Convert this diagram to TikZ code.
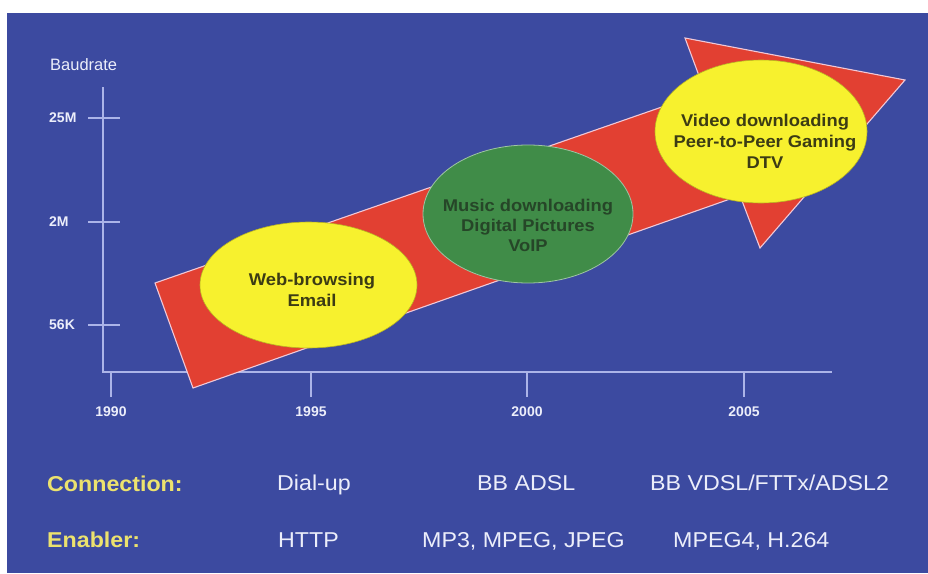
\documentclass[tikz,border=0pt]{standalone}
\usepackage{fontspec}
\setmainfont{Liberation Sans}
\newfontfamily\wfont{Liberation Sans}[FakeStretch=1.08]
\usetikzlibrary{shapes.geometric}
\definecolor{bg}{RGB}{60,74,160}
\definecolor{axisc}{RGB}{172,180,232}
\definecolor{arrowred}{RGB}{226,64,50}
\definecolor{arrowedge}{RGB}{240,200,215}
\definecolor{yel}{RGB}{247,241,46}
\definecolor{grn}{RGB}{64,140,72}
\definecolor{olive}{RGB}{60,60,20}
\definecolor{dgrn}{RGB}{38,70,40}
\definecolor{lbl}{RGB}{236,226,110}
\definecolor{wtxt}{RGB}{236,238,250}
\begin{document}
\begin{tikzpicture}[x=1pt,y=-1pt,
  axisline/.style={draw=axisc,line width=1.3pt},
  ylab/.style={anchor=west,inner sep=0pt,text=wtxt,font=\bfseries\fontsize{14}{16}\selectfont},
  xlab/.style={inner sep=0pt,text=wtxt,font=\bfseries\fontsize{14}{16}\selectfont},
  bigarrow/.style={fill=arrowred,draw=arrowedge,line width=1.1pt,line join=miter},
  ell/.style={ellipse,inner sep=0pt},
  etext/.style={align=center,inner sep=0pt,font=\wfont\bfseries\fontsize{17}{21}\selectfont},
  rowlabel/.style={anchor=base west,inner sep=0pt,text=lbl,font=\wfont\bfseries\fontsize{21.5}{24}\selectfont},
  rowtext/.style={anchor=base west,inner sep=0pt,text=wtxt,font=\wfont\fontsize{21.5}{24}\selectfont}
]
\useasboundingbox (0,0) rectangle (928,573);
\fill[white] (0,0) rectangle (928,573);
\fill[bg] (7,13) rectangle (928,573);

% axes
\coordinate (ytop) at (103,87);
\coordinate (orig) at (103,372);
\coordinate (xend) at (832,372);
\draw[axisline] (ytop) -- (orig) -- (xend);
\node[anchor=base west,inner sep=0pt,text=wtxt,font=\fontsize{16.5}{18}\selectfont] (baud) at (50,70) {Baudrate};

\foreach \yy/\t/\n in {118/25M/a,222/2M/b,325/56K/c}{
  \coordinate (yt\n l) at (88,\yy);
  \coordinate (yt\n r) at (120,\yy);
  \draw[axisline] (yt\n l) -- (yt\n r);
  \node[ylab] (yl\n) at (49,\yy) {\t};
}
\foreach \xx/\t in {111/1990,311/1995,527/2000,744/2005}{
  \coordinate (xt\t u) at (\xx,372);
  \coordinate (xt\t d) at (\xx,397);
  \draw[axisline] (xt\t u) -- (xt\t d);
  \node[xlab] (xl\t) at (\xx,412) {\t};
}

% big arrow
\coordinate (a1) at (155,283);
\coordinate (a2) at (193,388);
\coordinate (a3) at (740,195.5);
\coordinate (a4) at (760,248);
\coordinate (a5) at (905,80);
\coordinate (a6) at (685,38);
\coordinate (a7) at (705,92);
\filldraw[bigarrow] (a1) -- (a2) -- (a3) -- (a4) -- (a5) -- (a6) -- (a7) -- cycle;

% ellipses
\node[ell,fill=yel,draw=yel!75!black,line width=0.6pt,minimum width=217pt,minimum height=126pt] (web) at (308.5,285) {};
\node[ell,fill=grn,draw=grn!50!white,line width=0.8pt,minimum width=210pt,minimum height=138pt] (mus) at (528,214) {};
\node[ell,fill=yel,draw=yel!75!black,line width=0.6pt,minimum width=212pt,minimum height=143pt] (vid) at (761,131.5) {};

\node[etext,text=olive] (webt) at (312,290) {Web-browsing\\Email};
\node[etext,text=dgrn,font=\wfont\bfseries\fontsize{17}{20}\selectfont] (must) at (528,225) {Music downloading\\Digital Pictures\\VoIP};
\node[etext,text=olive] (vidt) at (765,141) {Video downloading\\Peer-to-Peer Gaming\\DTV};

% bottom rows
\node[rowlabel] (conn) at (47,491) {Connection:};
\node[rowtext] (c1) at (277,490) {Dial-up};
\node[rowtext] (c2) at (477,490) {BB ADSL};
\node[rowtext] (c3) at (650,490) {BB VDSL/FTTx/ADSL2};
\node[rowlabel] (enab) at (47,547) {Enabler:};
\node[rowtext] (e1) at (278,547) {HTTP};
\node[rowtext] (e2) at (422,547) {MP3, MPEG, JPEG};
\node[rowtext] (e3) at (673,547) {MPEG4, H.264};
\end{tikzpicture}
\end{document}
